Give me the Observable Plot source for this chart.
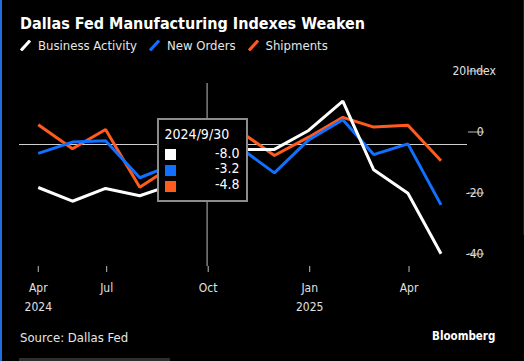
<!DOCTYPE html>
<html>
<head>
<meta charset="utf-8">
<script src="https://cdn.jsdelivr.net/npm/d3@7"></script>
<script src="https://cdn.jsdelivr.net/npm/@observablehq/plot@0.6"></script>
<style>
  html, body { margin: 0; padding: 0; background: #000; }
  body { width: 524px; height: 361px; overflow: hidden; position: relative;
         font-family: "DejaVu Sans Condensed", "DejaVu Sans", sans-serif; color: #fff; }
  #edge { position: absolute; left: 0; top: 0; width: 2px; height: 361px; background: #1f6fe0; }
  #rstrip { position: absolute; left: 523px; top: 0; width: 1px; height: 235px; background: #1e1e1e; }
  #bbar { position: absolute; left: 19px; top: 358px; width: 151px; height: 3px; background: #2e2e2e; }
  #title { position: absolute; left: 20px; top: 14px; font-size: 16px; font-weight: bold; color: #fff; white-space: nowrap; }
  #legend { position: absolute; left: 20px; top: 38px; display: flex; align-items: center; font-size: 13px; color: #e6e6e6; white-space: nowrap; }
  #legend .item { display: flex; align-items: center; margin-right: 12px; }
  #legend svg { margin-right: 7px; }
  #chart { position: absolute; left: 0; top: 58px; }
  #tooltip { position: absolute; box-sizing: border-box; width: 91px; height: 84px; top: 118px;
             background: #000; border: 2px solid #8c8c8c; }
  #tooltip .date { position: absolute; left: 6px; top: 6px; font-size: 14px; color: #fff; }
  #tooltip .sq { position: absolute; left: 6px; width: 11px; height: 11px; }
  #tooltip .val { position: absolute; right: 6px; font-size: 14px; color: #fff; }
  #source { position: absolute; left: 20px; top: 330px; font-size: 13px; color: #e6e6e6; }
  #brand { position: absolute; left: 432px; top: 329px; font-size: 11.5px; font-weight: bold; color: #fff; }
</style>
</head>
<body>
<div id="edge"></div>
<div id="rstrip"></div>
<div id="bbar"></div>
<div id="title">Dallas Fed Manufacturing Indexes Weaken</div>
<div id="legend"></div>
<div id="chart"></div>
<div id="source">Source: Dallas Fed</div>
<div id="brand">Bloomberg</div>
<script>
// ---- data (monthly, dated at month end) ----
const dates = ["2024-04-30","2024-05-31","2024-06-30","2024-07-31","2024-08-31","2024-09-30",
               "2024-10-31","2024-11-30","2024-12-31","2025-01-31","2025-02-28","2025-03-31","2025-04-30"];
const businessActivity = [-14.1, -18.6, -14.4, -16.8, -13.0, -8.0, -1.6, -1.6, 4.6, 14.2, -8.3, -16.0, -35.8];
const newOrders        = [-2.9, 0.8, 1.2, -10.9, -6.4, -3.2, -1.4, -9.3, 1.5, 8.1, -3.3, 0.2, -19.8];
const shipments        = [6.5, -1.4, 4.9, -14.0, -6.7, -4.8, 4.0, -3.6, 2.4, 8.9, 5.7, 6.3, -5.3];

const seriesNames  = ["Business Activity", "New Orders", "Shipments"];
const seriesColors = ["#ffffff", "#1170ff", "#ff5b1c"];
const seriesValues = [businessActivity, newOrders, shipments];

const yTicks = [-40, -20, 0, 20];
const yTopLabel = "20Index";
const xTickDates  = ["2024-04-30", "2024-07-01", "2024-10-01", "2025-01-01", "2025-04-01"];
const xTickMonths = ["Apr", "Jul", "Oct", "Jan", "Apr"];
const yearTickDates = ["2024-04-30", "2025-01-01"];
const yearLabels    = ["2024", "2025"];
const xDomain = ["2024-04-13", "2025-05-24"];
const hoverDate = "2024-09-30";

// ---- build table ----
const parse = s => new Date(s + "T00:00:00Z");
const rows = [];
// draw order: shipments, new orders, business activity (on top)
[2, 1, 0].forEach(k => {
  dates.forEach((d, i) => rows.push({date: parse(d), value: seriesValues[k][i], series: seriesNames[k]}));
});
const monthTicks = xTickDates.map((d, i) => ({date: parse(d), label: xTickMonths[i]}));
const yearTicks  = yearTickDates.map((d, i) => ({date: parse(d), label: yearLabels[i]}));

// ---- legend ----
const legend = document.getElementById("legend");
seriesNames.forEach((n, i) => {
  const item = document.createElement("div");
  item.className = "item";
  item.innerHTML = `<svg width="11" height="11" viewBox="0 0 11 11"><line x1="1" y1="10.5" x2="10" y2="0.5" stroke="${seriesColors[i]}" stroke-width="3"/></svg><span>${n}</span>`;
  legend.appendChild(item);
});

// ---- chart ----
const font = '"DejaVu Sans Condensed", "DejaVu Sans", sans-serif';
const chart = Plot.plot({
  width: 524,
  height: 262,
  marginTop: 25,
  marginBottom: 54,
  marginLeft: 19,
  marginRight: 57,
  style: {background: "transparent", color: "#e0e0e0", fontFamily: font, fontSize: "12px", overflow: "visible"},
  x: {type: "utc", domain: xDomain.map(parse), label: null},
  y: {domain: [-40, 20], label: null},
  color: {domain: seriesNames, range: seriesColors},
  marks: [
    Plot.ruleY([0], {stroke: "#cfcfcf", strokeWidth: 1}),
    Plot.ruleX([parse(hoverDate)], {stroke: "#bdbdbd", strokeWidth: 1}),
    Plot.axisY(yTicks, {anchor: "right", label: null, tickSize: 16, tickPadding: 0, textAnchor: "end", dy: -12.5,
      stroke: "#bdbdbd", fill: "#e0e0e0", tickFormat: d => d === 20 ? "" : String(d)}),
    Plot.text([20], {y: d => d, text: [yTopLabel], frameAnchor: "right", textAnchor: "start", dx: -15, dy: -12.5, fill: "#e0e0e0"}),
    Plot.axisX(monthTicks.map(d => d.date), {anchor: "bottom", label: null, tickSize: 6, text: null, stroke: "#bdbdbd"}),
    Plot.text(monthTicks, {x: "date", text: "label", frameAnchor: "bottom", lineAnchor: "middle", dy: 21.5, fill: "#e0e0e0"}),
    Plot.text(yearTicks, {x: "date", text: "label", frameAnchor: "bottom", lineAnchor: "middle", dy: 40.2, fill: "#e0e0e0"}),
    Plot.line(rows, {x: "date", y: "value", z: "series", stroke: "series", strokeWidth: 3, strokeLinejoin: "miter", strokeLinecap: "butt"})
  ]
});
document.getElementById("chart").appendChild(chart);

// ---- hover tooltip ----
const hx = chart.scale("x").apply(parse(hoverDate));
const hi = dates.indexOf(hoverDate);
const tip = document.createElement("div");
tip.id = "tooltip";
tip.style.left = (hx - 50) + "px";
const [yy, mm, dd] = hoverDate.split("-").map(Number);
let html = `<div class="date">${yy}/${mm}/${dd}</div>`;
seriesNames.forEach((n, i) => {
  html += `<div class="sq" style="top:${28.6 + 16.2 * i}px;background:${seriesColors[i]}"></div>`;
  html += `<div class="val" style="top:${24.5 + 15.8 * i}px">${seriesValues[i][hi].toFixed(1)}</div>`;
});
tip.innerHTML = html;
document.body.appendChild(tip);
</script>
</body>
</html>
